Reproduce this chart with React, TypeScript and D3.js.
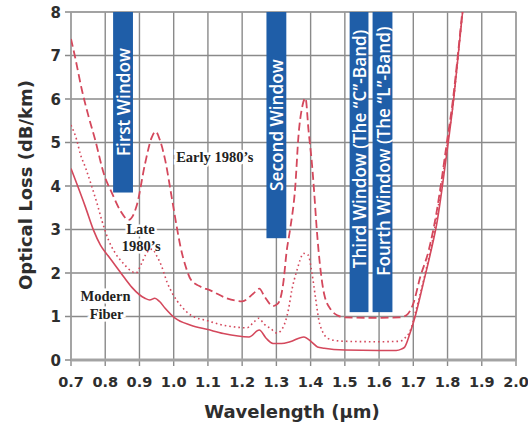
import React from "react";
import * as d3 from "d3";

const xTicks = [0.7, 0.8, 0.9, 1.0, 1.1, 1.2, 1.3, 1.4, 1.5, 1.6, 1.7, 1.8, 1.9, 2.0];
const yTicks = [0, 1, 2, 3, 4, 5, 6, 7, 8];

// Early 1980's fiber (dashed): [wavelength µm, loss dB/km]
const early1980s: [number, number][] = [
  [0.7, 7.38], [0.712, 6.96], [0.732, 6.2], [0.752, 5.58], [0.771, 5.05], [0.796, 4.28],
  [0.82, 3.83], [0.845, 3.42], [0.868, 3.22], [0.892, 3.55], [0.916, 4.5], [0.935, 5.1],
  [0.947, 5.25], [0.96, 5.05], [0.975, 4.6], [0.994, 3.75], [1.009, 3.06], [1.02, 2.6],
  [1.035, 2.15], [1.05, 1.85], [1.075, 1.7], [1.107, 1.6], [1.155, 1.42], [1.2, 1.35],
  [1.233, 1.53], [1.25, 1.64], [1.266, 1.45], [1.29, 1.24], [1.305, 1.3], [1.32, 1.76],
  [1.33, 2.5], [1.34, 3.0], [1.355, 3.97], [1.365, 5.2], [1.375, 5.8], [1.385, 6.02],
  [1.394, 5.27], [1.404, 4.5], [1.41, 3.9], [1.418, 3.0], [1.43, 2.0], [1.44, 1.5],
  [1.46, 1.15], [1.48, 1.02], [1.5, 0.98], [1.6, 0.97], [1.66, 0.98], [1.68, 1.03],
  [1.7, 1.3], [1.72, 1.9], [1.745, 2.52], [1.768, 3.4], [1.78, 4.0], [1.798, 5.0],
  [1.816, 6.0], [1.83, 7.0], [1.843, 8.0],
];

// Late 1980's fiber (dotted)
const late1980s: [number, number][] = [
  [0.7, 5.4], [0.717, 5.05], [0.727, 4.74], [0.742, 4.43], [0.761, 3.98], [0.776, 3.6],
  [0.79, 3.21], [0.81, 2.75], [0.83, 2.45], [0.853, 2.22], [0.875, 2.05], [0.89, 2.0],
  [0.905, 2.2], [0.92, 2.45], [0.937, 2.55], [0.95, 2.4], [0.965, 2.15], [0.98, 1.8],
  [0.995, 1.55], [1.024, 1.22], [1.05, 1.03], [1.1, 0.9], [1.145, 0.8], [1.19, 0.75],
  [1.214, 0.74], [1.235, 0.88], [1.248, 0.96], [1.265, 0.82], [1.282, 0.73], [1.302, 0.62],
  [1.32, 0.76], [1.335, 1.15], [1.345, 1.6], [1.36, 2.06], [1.38, 2.45], [1.393, 2.41],
  [1.404, 1.99], [1.414, 1.45], [1.424, 0.92], [1.435, 0.65], [1.45, 0.5], [1.47, 0.45],
  [1.5, 0.43], [1.6, 0.42], [1.66, 0.43], [1.675, 0.5], [1.695, 0.76], [1.703, 1.0],
  [1.735, 2.0], [1.762, 3.0], [1.782, 4.0], [1.8, 5.0], [1.818, 6.0], [1.831, 7.0],
  [1.844, 8.0],
];

// Modern fiber (solid)
const modernFiber: [number, number][] = [
  [0.7, 4.4], [0.717, 4.05], [0.742, 3.52], [0.766, 2.98], [0.786, 2.64], [0.81, 2.38],
  [0.829, 2.18], [0.855, 1.9], [0.878, 1.67], [0.9, 1.5], [0.916, 1.42], [0.93, 1.38],
  [0.945, 1.42], [0.958, 1.35], [0.975, 1.19], [1.004, 0.96], [1.05, 0.8], [1.1, 0.7],
  [1.145, 0.61], [1.22, 0.53], [1.25, 0.69], [1.27, 0.5], [1.29, 0.38], [1.315, 0.38],
  [1.34, 0.42], [1.38, 0.53], [1.405, 0.4], [1.42, 0.3], [1.44, 0.27], [1.5, 0.23],
  [1.6, 0.22], [1.65, 0.22], [1.665, 0.25], [1.675, 0.3], [1.69, 0.61], [1.705, 0.99],
  [1.729, 1.76], [1.75, 2.45], [1.77, 3.2], [1.785, 4.0], [1.802, 5.0], [1.818, 6.0],
  [1.831, 7.0], [1.844, 8.0],
];

const bandNames = [
  "First Window",
  "Second Window",
  "Third Window (The \u201CC\u201D-Band)",
  "Fourth Window (The \u201CL\u201D-Band)",
];
const bandStart = [0.823, 1.271, 1.514, 1.581];
const bandEnd = [0.881, 1.329, 1.569, 1.639];
const bandBottom = [3.85, 2.8, 1.1, 1.1];
const bandTextCenter = [5.93, 5.4, 4.85, 4.8];

const curveLabels = ["Early 1980\u2019s", "Late", "1980\u2019s", "Modern", "Fiber"];
const curveLabelX = [1.12, 0.903, 0.905, 0.801, 0.804];
const curveLabelY = [4.55, 2.9, 2.5, 1.36, 0.95];

export default function App() {
  const W = 528, H = 425;
  const x = d3.scaleLinear().domain([0.7, 2.0]).range([71, 516]);
  const y = d3.scaleLinear().domain([0, 8]).range([360, 12]);
  const line = d3
    .line<[number, number]>()
    .x((d) => x(d[0]))
    .y((d) => y(d[1]))
    .curve(d3.curveMonotoneX);

  const red = "#d4485c";
  const grid = "#8a8a8a";
  const txt = "#2e2e2e";
  const serif = "'Liberation Serif', serif";
  const sans = "'DejaVu Sans', sans-serif";

  return (
    <svg width={W} height={H} style={{ position: "absolute", left: 0, top: 0, background: "#fff" }}>
      <defs>
        <clipPath id="plot">
          <rect x={x(0.7)} y={y(8)} width={x(2.0) - x(0.7)} height={y(0) - y(8)} />
        </clipPath>
      </defs>
      {/* grid */}
      {xTicks.map((t) => (
        <line key={"gx" + t} x1={x(t)} x2={x(t)} y1={y(8)} y2={y(0) + 6} stroke={grid} strokeWidth={1.4} />
      ))}
      {yTicks.map((t) => (
        <line key={"gy" + t} x1={x(0.7) - 6} x2={x(2.0)} y1={y(t)} y2={y(t)} stroke={grid} strokeWidth={1.4} />
      ))}
      <line x1={x(0.7)} x2={x(2.0)} y1={y(0)} y2={y(0)} stroke="#a8a8a8" strokeWidth={3} />
      <rect x={x(0.7)} y={y(8)} width={x(2.0) - x(0.7)} height={y(0) - y(8)} fill="none" stroke="#a0a0a0" strokeWidth={1.2} />

      {/* curve labels with white halo */}
      {curveLabels.map((s, i) => (
        <text
          key={"cl" + i}
          x={x(curveLabelX[i])}
          y={y(curveLabelY[i])}
          textAnchor="middle"
          fontFamily={serif}
          fontWeight="bold"
          fontSize={14.5}
          fill="#222"
          stroke="#fff"
          strokeWidth={5}
          paintOrder="stroke"
        >
          {s}
        </text>
      ))}

      {/* curves */}
      <g clipPath="url(#plot)" fill="none" stroke={red}>
        <path d={line(modernFiber) || ""} strokeWidth={1.6} />
        <path d={line(late1980s) || ""} strokeWidth={1.6} strokeDasharray="1.6 3" />
        <path d={line(early1980s) || ""} strokeWidth={1.8} strokeDasharray="8 4" />
      </g>

      {/* bands */}
      {bandNames.map((n, i) => {
        const x0 = x(bandStart[i]);
        const x1 = x(bandEnd[i]);
        const cx = (x0 + x1) / 2;
        return (
          <g key={"b" + i}>
            <rect x={x0} y={y(8)} width={x1 - x0} height={y(bandBottom[i]) - y(8)} fill="#1f5ea8" />
            <text
              transform={`translate(${cx + 0.5},${y(bandTextCenter[i])}) rotate(-90)`}
              textAnchor="middle"
              dominantBaseline="central"
              fontFamily="'Open Sans', sans-serif"
              fontWeight={600}
              fontSize={17.2}
              fill="#fff"
            >
              {n}
            </text>
          </g>
        );
      })}

      {/* tick labels */}
      {xTicks.map((t) => (
        <text key={"tx" + t} x={x(t)} y={387} textAnchor="middle" fontFamily={sans} fontWeight="bold" fontSize={14.5} fill={txt}>
          {t.toFixed(1)}
        </text>
      ))}
      {yTicks.map((t) => (
        <text key={"ty" + t} x={61} y={y(t) + 5.5} textAnchor="end" fontFamily={sans} fontWeight="bold" fontSize={15} fill={txt}>
          {t}
        </text>
      ))}
      <text x={292} y={418} textAnchor="middle" fontFamily={sans} fontWeight="bold" fontSize={18} fill={txt}>
        Wavelength ({"\u03BC"}m)
      </text>
      <text transform="translate(32,185) rotate(-90)" textAnchor="middle" fontFamily={sans} fontWeight="bold" fontSize={18} fill={txt}>
        Optical Loss (dB/km)
      </text>
    </svg>
  );
}
